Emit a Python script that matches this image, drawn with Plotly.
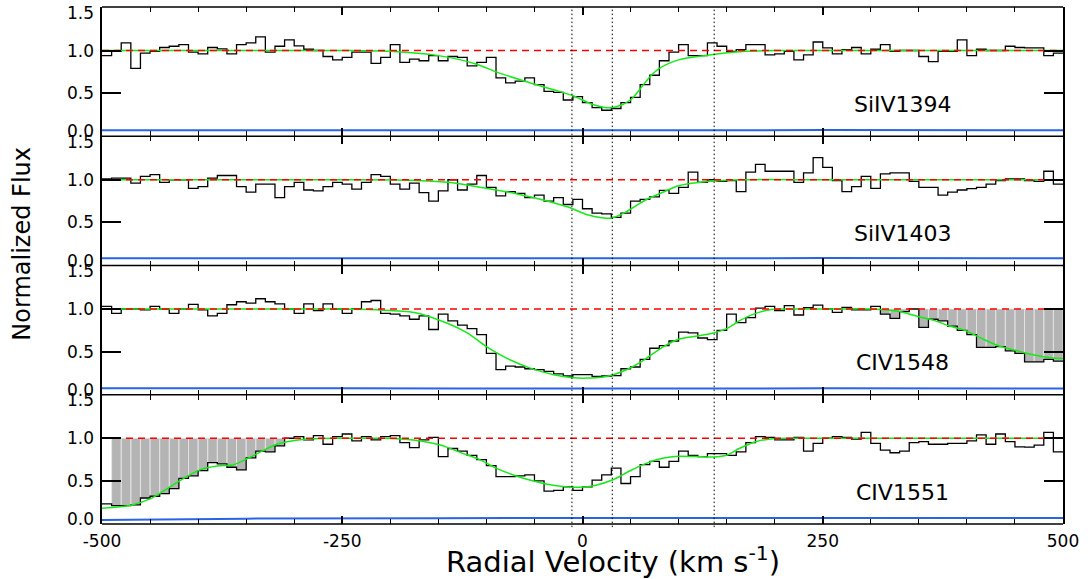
import plotly.graph_objects as go
from plotly.subplots import make_subplots

FONT = "DejaVu Sans"

# ---------------- data ----------------
# velocity bins: left edges (km/s), 10 km/s wide, last bin ends at 500
vel_left = list(range(-500, 500, 10))
vel_end = 500
continuum = 1.0
component_velocities = [-11, 31, 137]
ytick_values = [0.0, 0.5, 1.0, 1.5]
ytick_labels = ["0.0", "0.5", "1.0", "1.5"]
xtick_values = [-500, -250, 0, 250, 500]
xtick_labels = ["-500", "-250", "0", "250", "500"]
line_names = ["SiIV1394", "SiIV1403", "CIV1548", "CIV1551"]

siiv1394_flux = [
    0.94, 0.99, 1.09, 0.79, 0.97, 0.99, 1.035, 1.05, 1.07, 0.98,
    0.96, 1.035, 1.02, 0.96, 1.07, 1.09, 1.16, 0.98, 1.05, 1.125,
    1.055, 1.015, 1.0, 0.93, 0.89, 0.92, 0.98, 0.98, 0.85, 0.92,
    1.07, 0.86, 0.90, 0.88, 0.94, 0.88, 0.93, 0.92, 0.82, 0.86,
    0.92, 0.68, 0.62, 0.64, 0.68, 0.60, 0.52, 0.51, 0.42, 0.46,
    0.39, 0.33, 0.30, 0.32, 0.39, 0.45, 0.60, 0.71, 0.88, 0.98,
    1.07, 0.94, 0.94, 1.09, 1.05, 0.99, 1.01, 1.07, 1.07, 0.95,
    0.96, 0.99, 0.89, 0.95, 1.10, 1.03, 0.96, 1.01, 1.035, 0.96,
    1.015, 1.07, 0.99, 1.0, 1.0, 0.93, 0.87, 0.99, 0.99, 1.125,
    0.94, 1.015, 1.0, 1.0, 1.05, 1.035, 1.03, 1.03, 0.94, 0.97,
]
siiv1403_flux = [
    1.01, 1.02, 1.02, 0.96, 1.04, 1.06, 0.97, 1.0, 1.0, 0.90,
    0.92, 1.02, 1.05, 1.05, 0.92, 0.855, 0.95, 0.95, 0.79, 0.92,
    0.97, 0.88, 0.87, 0.92, 0.97, 0.95, 0.89, 0.97, 1.06, 1.04,
    0.95, 0.89, 0.96, 0.85, 0.75, 0.87, 1.0, 0.88, 0.95, 1.05,
    0.91, 0.81, 0.86, 0.84, 0.79, 0.82, 0.75, 0.79, 0.71, 0.77,
    0.66, 0.61, 0.60, 0.56, 0.61, 0.75, 0.77, 0.80, 0.875, 0.84,
    0.91, 1.09, 0.97, 1.0, 0.98, 0.99, 0.86, 1.09, 1.18, 1.10,
    1.10, 1.10, 0.97, 1.08, 1.26, 1.145, 0.99, 0.86, 0.92, 1.04,
    0.90, 1.07, 1.08, 1.08, 0.98, 0.91, 0.91, 0.82, 0.855, 0.88,
    0.895, 0.91, 0.95, 0.99, 1.01, 1.01, 0.99, 0.98, 1.10, 0.95,
]
civ1548_flux = [
    1.03, 0.95, 1.0, 1.0, 0.99, 1.03, 1.0, 0.95, 1.0, 1.055,
    0.99, 0.92, 0.95, 1.05, 1.085, 1.07, 1.12, 1.085, 1.06, 1.0,
    0.95, 1.06, 0.98, 1.06, 1.0, 0.95, 1.0, 1.085, 1.10, 0.95,
    0.94, 0.92, 0.88, 0.92, 0.76, 0.94, 0.86, 0.81, 0.77, 0.70,
    0.48, 0.29, 0.33, 0.32, 0.30, 0.29, 0.27, 0.24, 0.215, 0.23,
    0.23, 0.21, 0.215, 0.22, 0.30, 0.32, 0.41, 0.54, 0.57, 0.625,
    0.73, 0.72, 0.66, 0.64, 0.75, 0.94, 0.84, 0.90, 1.01, 1.03,
    0.98, 1.04, 0.93, 1.015, 1.045, 1.0, 0.96, 1.02, 0.99, 0.99,
    1.03, 0.94, 0.89, 0.97, 1.0, 0.785, 0.88, 0.86, 0.80, 0.75,
    0.70, 0.55, 0.55, 0.56, 0.51, 0.48, 0.38, 0.38, 0.41, 0.39,
]
civ1551_flux = [
    0.23, 0.21, 0.21, 0.22, 0.30, 0.32, 0.35, 0.41, 0.53, 0.56,
    0.62, 0.715, 0.70, 0.66, 0.63, 0.77, 0.85, 0.84, 0.91, 1.0,
    1.02, 0.98, 1.03, 0.93, 1.02, 1.05, 0.97, 1.02, 0.98, 1.02,
    1.03, 0.95, 0.89, 0.98, 1.01, 0.785, 0.88, 0.85, 0.80, 0.75,
    0.68, 0.55, 0.55, 0.56, 0.57, 0.50, 0.38, 0.39, 0.43, 0.39,
    0.43, 0.51, 0.57, 0.65, 0.47, 0.55, 0.69, 0.73, 0.66, 0.73,
    0.85, 0.80, 0.785, 0.82, 0.82, 0.80, 0.84, 0.95, 1.02, 1.01,
    0.98, 0.98, 1.01, 0.85, 0.94, 1.0, 1.02, 1.01, 0.99, 1.07,
    0.94, 0.86, 0.83, 0.85, 0.95, 0.96, 0.93, 0.93, 0.94, 0.94,
    0.97, 1.04, 0.93, 1.05, 0.96, 0.90, 0.895, 0.92, 1.07, 0.84,
]

# fitted model (green), sampled from the figure
siiv1394_model_v = [-500, -350, -250, -200, -150, -110, -90, -60, -30, -10, 10, 25, 35, 50, 60, 70, 80, 100, 120, 140, 170, 200, 300, 500]
siiv1394_model_f = [1.0, 1.0, 1.0, 0.99, 0.94, 0.84, 0.75, 0.64, 0.54, 0.47, 0.37, 0.33, 0.34, 0.42, 0.55, 0.69, 0.79, 0.89, 0.93, 0.96, 0.99, 1.0, 1.0, 1.0]
siiv1403_model_v = [-500, -350, -250, -180, -140, -105, -70, -40, -15, 5, 20, 30, 45, 65, 85, 100, 130, 170, 250, 350, 500]
siiv1403_model_f = [1.0, 1.0, 1.0, 0.995, 0.97, 0.91, 0.84, 0.76, 0.68, 0.59, 0.555, 0.55, 0.62, 0.76, 0.86, 0.93, 0.98, 1.0, 1.0, 1.0, 1.0]
civ1548_model_v = [-500, -350, -250, -215, -175, -140, -120, -100, -80, -55, -30, -10, 5, 20, 32, 48, 65, 83, 100, 118, 135, 150, 163, 178, 195, 215, 260, 300, 330, 350, 365, 382, 400, 417, 435, 452, 470, 487, 500]
civ1548_model_f = [1.0, 1.0, 1.0, 0.99, 0.96, 0.83, 0.72, 0.56, 0.43, 0.31, 0.23, 0.195, 0.19, 0.20, 0.23, 0.30, 0.41, 0.55, 0.645, 0.68, 0.715, 0.77, 0.86, 0.94, 0.99, 1.0, 1.0, 1.0, 0.97, 0.91, 0.87, 0.80, 0.74, 0.645, 0.56, 0.51, 0.46, 0.43, 0.42]
civ1551_model_v = [-500, -470, -450, -432, -415, -398, -380, -363, -349, -335, -318, -300, -280, -250, -210, -176, -148, -124, -107, -90, -72, -55, -38, -20, -3, 14, 31, 48, 65, 83, 100, 118, 136, 150, 163, 180, 198, 230, 350, 500]
civ1551_model_f = [0.18, 0.215, 0.29, 0.41, 0.53, 0.63, 0.675, 0.69, 0.76, 0.84, 0.93, 0.975, 0.995, 1.0, 1.0, 0.98, 0.92, 0.82, 0.75, 0.65, 0.57, 0.51, 0.465, 0.435, 0.425, 0.45, 0.51, 0.61, 0.70, 0.765, 0.79, 0.785, 0.78, 0.80, 0.88, 0.96, 0.995, 1.0, 1.0, 1.0]

# error spectrum (blue)
siiv1394_err_v = [-500, -250, 0, 250, 500]
siiv1394_err_f = [0.065, 0.066, 0.064, 0.067, 0.066]
siiv1403_err_v = [-500, -250, 0, 250, 500]
siiv1403_err_f = [0.080, 0.081, 0.079, 0.082, 0.081]
civ1548_err_v = [-500, -250, 0, 250, 500]
civ1548_err_f = [0.070, 0.071, 0.068, 0.070, 0.067]
civ1551_err_v = [-500, -350, 0, 250, 500]
civ1551_err_f = [0.043, 0.058, 0.065, 0.065, 0.065]

# blended (other doublet member) bins, shaded grey: (first bin, last bin) left edges
siiv1394_blend = []
siiv1403_blend = []
civ1548_blend = [(310, 330), (350, 490)]
civ1551_blend = [(-490, -320)]

panels = [
    (line_names[0], siiv1394_flux, siiv1394_model_v, siiv1394_model_f, siiv1394_err_v, siiv1394_err_f, siiv1394_blend),
    (line_names[1], siiv1403_flux, siiv1403_model_v, siiv1403_model_f, siiv1403_err_v, siiv1403_err_f, siiv1403_blend),
    (line_names[2], civ1548_flux, civ1548_model_v, civ1548_model_f, civ1548_err_v, civ1548_err_f, civ1548_blend),
    (line_names[3], civ1551_flux, civ1551_model_v, civ1551_model_f, civ1551_err_v, civ1551_err_f, civ1551_blend),
]

# ---------------- figure ----------------
fig = make_subplots(rows=4, cols=1, shared_xaxes=True, vertical_spacing=0)

bin_width = vel_left[1] - vel_left[0]
for r, (name, flux, mv, mf, ev, ef, blend) in enumerate(panels, start=1):
    # grey shading for blends
    if blend:
        gx, gy = [], []
        for lo, hi in blend:
            for v, f in zip(vel_left, flux):
                if lo <= v <= hi:
                    gx += [v, v, v + bin_width, v + bin_width, v, None]
                    gy += [continuum, f, f, continuum, continuum, None]
        fig.add_trace(go.Scatter(x=gx, y=gy, mode="lines", fill="toself",
                                 fillcolor="rgb(180,180,180)",
                                 line=dict(color="rgb(228,228,228)", width=0.8),
                                 hoverinfo="skip"), row=r, col=1)
    # data histogram
    fig.add_trace(go.Scatter(x=vel_left + [vel_end], y=flux + [flux[-1]],
                             mode="lines", line=dict(color="black", width=1.3, shape="hv")),
                  row=r, col=1)
    # model
    fig.add_trace(go.Scatter(x=mv, y=mf, mode="lines",
                             line=dict(color="rgb(20,235,20)", width=1.5, shape="spline", smoothing=0.8)),
                  row=r, col=1)
    # continuum
    fig.add_trace(go.Scatter(x=[vel_left[0], vel_end], y=[continuum, continuum], mode="lines",
                             line=dict(color="rgb(255,0,0)", width=1.4, dash="7px,5px")),
                  row=r, col=1)
    # error
    fig.add_trace(go.Scatter(x=ev, y=ef, mode="lines",
                             line=dict(color="rgb(40,100,230)", width=2, shape="spline")),
                  row=r, col=1)

    ax = "" if r == 1 else str(r)
    # x-axis lines are transparent (a single frame line is drawn below); ticks mirrored top and bottom
    fig.update_xaxes(row=r, col=1, range=[-500, 500], tickvals=xtick_values, ticktext=xtick_labels,
                     ticks="inside", ticklen=8, tickwidth=1.5, tickcolor="black",
                     minor=dict(dtick=50, ticks="inside", ticklen=5, tickwidth=1.2, tickcolor="black"),
                     mirror="allticks", showline=True, linecolor="rgba(0,0,0,0)", linewidth=1,
                     showgrid=False, zeroline=False, showticklabels=(r == 4),
                     tickfont=dict(family=FONT, size=17, color="black"), ticklabelstandoff=2)
    fig.update_yaxes(row=r, col=1, range=[-0.005, 1.51], tickvals=ytick_values,
                     ticks="inside", ticklen=19, tickwidth=1.5, tickcolor="black",
                     mirror="allticks", showline=True, linecolor="black", linewidth=1.5,
                     showgrid=False, zeroline=False, showticklabels=False)

    # line label
    fig.add_annotation(x=333, y=0.37, xref="x" + ax, yref="y" + ax, text=name, showarrow=False,
                       font=dict(family=FONT, size=22, color="black"), xanchor="center", yanchor="middle")
    # y tick labels (end labels nudged inward like the original)
    for val, lab in zip(ytick_values, ytick_labels):
        ypos = val
        if val == ytick_values[0]:
            ypos = val + 0.053
        elif val == ytick_values[-1]:
            ypos = val - 0.055
        fig.add_annotation(x=-0.0065, y=ypos, xref="paper", yref="y" + ax, text=lab, showarrow=False,
                           font=dict(family=FONT, size=17, color="black"), xanchor="right", yanchor="middle")

# single horizontal frame lines at panel boundaries
for yb in [0.0, 0.25, 0.5, 0.75, 1.0]:
    fig.add_shape(type="line", xref="paper", yref="paper", x0=0, x1=1, y0=yb, y1=yb,
                  line=dict(color="black", width=1.5))

# component markers
for v in component_velocities:
    fig.add_shape(type="line", xref="x4", yref="paper", x0=v, x1=v, y0=-0.006, y1=1.0,
                  line=dict(color="black", width=1, dash="1.5px,2.5px"))

fig.add_annotation(x=-0.0836, y=0.5416, xref="paper", yref="paper", text="Normalized Flux",
                   textangle=-90, showarrow=False, xanchor="center", yanchor="middle",
                   font=dict(family=FONT, size=24, color="black"))
fig.add_annotation(x=0.532, y=-0.07, xref="paper", yref="paper",
                   text="Radial Velocity (km s<sup>-1</sup>)", showarrow=False,
                   xanchor="center", yanchor="middle",
                   font=dict(family=FONT, size=29, color="black"))

fig.update_layout(width=1090, height=579, margin=dict(l=102, r=27, t=7, b=55),
                  plot_bgcolor="white", paper_bgcolor="white", showlegend=False,
                  font=dict(family=FONT, color="black"))

fig.write_html("out.html")
